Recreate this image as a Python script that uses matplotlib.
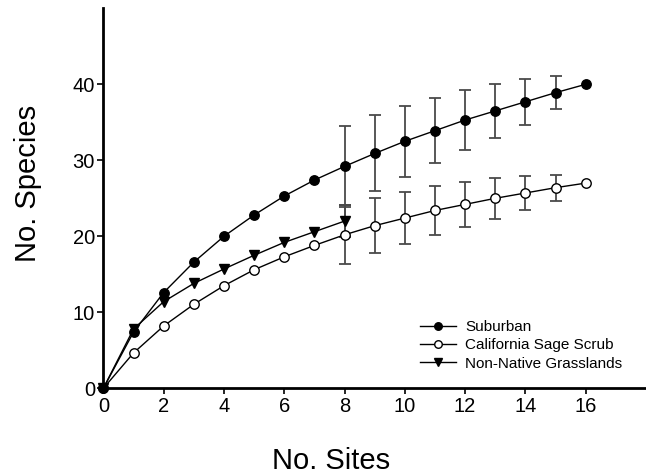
import matplotlib
matplotlib.use("Agg")
import matplotlib.pyplot as plt
import numpy as np

plt.rcParams['font.family'] = ['Liberation Sans', 'DejaVu Sans']

sites_sub = [0, 1, 2, 3, 4, 5, 6, 7, 8, 9, 10, 11, 12, 13, 14, 15, 16]
suburban = [0, 7.4, 12.6, 16.6, 20.0, 22.8, 25.3, 27.4, 29.2, 30.9, 32.5, 33.9, 35.3, 36.5, 37.7, 38.9, 40.0]
suburban_err = [0, 0, 0, 0, 0, 0, 0, 0, 5.3, 5.0, 4.7, 4.3, 4.0, 3.6, 3.0, 2.2, 0]

sites_css = [0, 1, 2, 3, 4, 5, 6, 7, 8, 9, 10, 11, 12, 13, 14, 15, 16]
sage_scrub = [0, 4.65, 8.2, 11.05, 13.5, 15.6, 17.3, 18.8, 20.2, 21.4, 22.4, 23.4, 24.2, 25.0, 25.7, 26.4, 27.0]
sage_scrub_err = [0, 0, 0, 0, 0, 0, 0, 0, 3.9, 3.6, 3.4, 3.2, 3.0, 2.7, 2.3, 1.7, 0]

sites_nng = [0, 1, 2, 3, 4, 5, 6, 7, 8]
grasslands = [0, 7.8, 11.4, 13.8, 15.7, 17.5, 19.2, 20.6, 22.0]
grasslands_err = [0, 0, 0, 0, 0, 0, 0, 0, 2.1]

labels = ["Suburban", "California Sage Scrub", "Non-Native Grasslands"]
xticks = [0, 2, 4, 6, 8, 10, 12, 14, 16]
yticks = [0, 10, 20, 30, 40]

fig = plt.figure(figsize=(6.46, 4.75), dpi=100)
ax = fig.add_axes([0.16, 0.1825, 0.84, 0.80])

def masked_err(err):
    e = np.array(err, dtype=float)
    return np.where(e > 0, e, np.nan)

ecol = '#4a4a4a'
for x, y, e in [(sites_sub, suburban, suburban_err),
                (sites_css, sage_scrub, sage_scrub_err),
                (sites_nng, grasslands, grasslands_err)]:
    ax.errorbar(x, y, yerr=masked_err(e), fmt='none', ecolor=ecol,
                elinewidth=1.3, capsize=4.5, capthick=1.3, zorder=2)

ax.plot(sites_nng, grasslands, '-', color='black', lw=1, marker='v',
        ms=7.5, mfc='black', mec='black', label=labels[2], zorder=3)
ax.plot(sites_css, sage_scrub, '-', color='black', lw=1, marker='o',
        ms=6.8, mfc='white', mec='black', mew=1, label=labels[1], zorder=4)
ax.plot(sites_sub, suburban, '-', color='black', lw=1, marker='o',
        ms=6.8, mfc='black', mec='black', label=labels[0], zorder=5)

ax.set_xlim(0, 18)
ax.set_ylim(0, 50)
ax.set_xticks(xticks)
ax.set_yticks(yticks)
ax.spines['top'].set_visible(False)
ax.spines['right'].set_visible(False)
ax.spines['left'].set_linewidth(2)
ax.spines['bottom'].set_linewidth(2)
ax.tick_params(axis='both', direction='out', length=4, width=1.2,
               labelsize=14.5, pad=2)
ax.set_xlabel("No. Sites", fontsize=21)
ax.set_ylabel("No. Species", fontsize=21)
ax.xaxis.set_label_coords(0.42, -0.155)
ax.yaxis.set_label_coords(-0.113, 0.54)
for l in ax.lines:
    l.set_clip_on(False)

h, l = ax.get_legend_handles_labels()
order = [2, 1, 0]
ax.legend([h[i] for i in order], [l[i] for i in order], loc='lower left',
          bbox_to_anchor=(0.558, 0.01), frameon=False, fontsize=11,
          handlelength=2.35, handletextpad=0.6, labelspacing=0.28,
          markerscale=0.8)

fig.savefig("out.png", dpi=100)
